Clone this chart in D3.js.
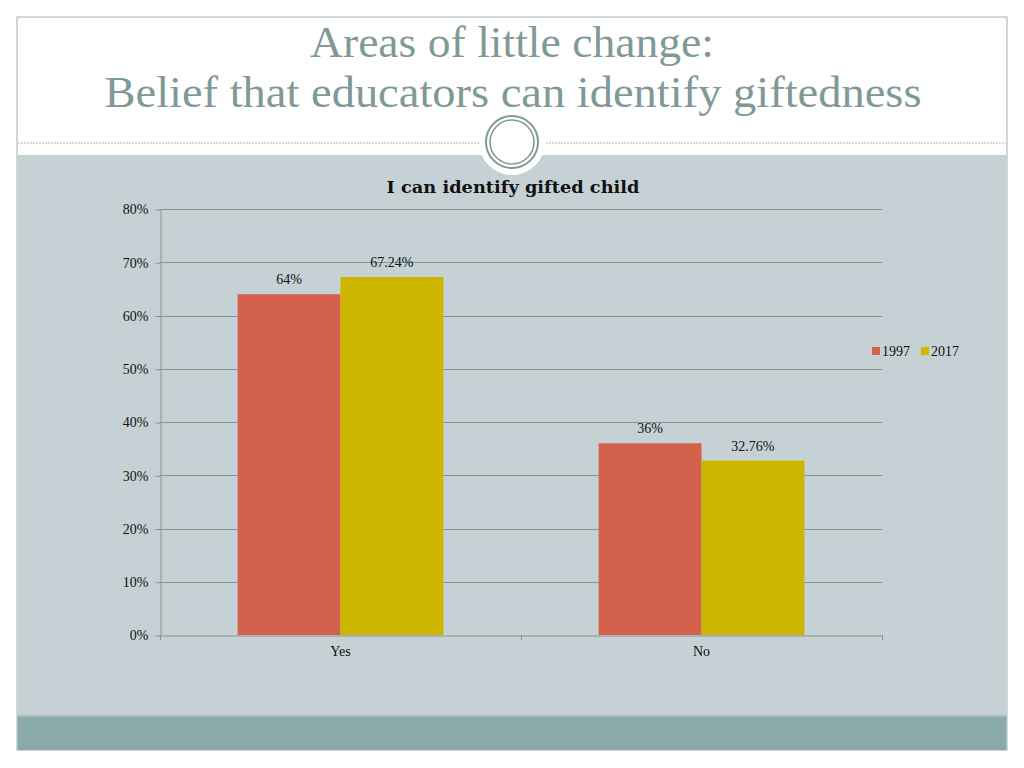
<!DOCTYPE html>
<html><head><meta charset="utf-8">
<script src="https://cdn.jsdelivr.net/npm/d3@7"></script>
<style>body{margin:0;background:#fff;}svg{display:block;}</style>
</head><body>
<svg id="c" width="1024" height="768"></svg>
<script>
const categories = ["Yes", "No"];
const seriesNames = ["1997", "2017"];
const values1997 = [64, 36];
const values2017 = [67.24, 32.76];
const labels1997 = ["64%", "36%"];
const labels2017 = ["67.24%", "32.76%"];
const yTicks = [0, 10, 20, 30, 40, 50, 60, 70, 80];
const colors = ["#d4614b", "#cdb500"];

const svg = d3.select("#c");
const serif = "Liberation Serif, DejaVu Serif, serif";

// slide frame
svg.append("rect").attr("x",17).attr("y",17).attr("width",990).attr("height",733).attr("fill","#fff").attr("stroke","#9fb0b0").attr("stroke-width",1);
svg.append("rect").attr("x",17.5).attr("y",155).attr("width",989).attr("height",561).attr("fill","#c5d1d5");
svg.append("rect").attr("x",17.5).attr("y",716).attr("width",989).attr("height",34).attr("fill","#8aaaa9");
svg.append("line").attr("x1",17.5).attr("x2",1006.5).attr("y1",715.5).attr("y2",715.5).attr("stroke","#b2c3c6").attr("stroke-width",2);
// dashed line
svg.append("line").attr("x1",18).attr("x2",1006).attr("y1",143).attr("y2",143).attr("stroke","#a9b3b3").attr("stroke-width",1).attr("stroke-dasharray","2,1");
// circle ornament
svg.append("circle").attr("cx",512).attr("cy",142).attr("r",33).attr("fill","#fff");
svg.append("circle").attr("cx",512).attr("cy",142).attr("r",26).attr("fill","#fff").attr("stroke","#7f9a96").attr("stroke-width",2);
svg.append("circle").attr("cx",512).attr("cy",142).attr("r",22).attr("fill","#fff").attr("stroke","#7f9a96").attr("stroke-width",1.5);

// Titles
svg.append("text").attr("x",512).attr("y",57).attr("text-anchor","middle").attr("font-family",serif).attr("font-size",45).attr("fill","#7f9a96")
  .attr("textLength",404).attr("lengthAdjust","spacingAndGlyphs").text("Areas of little change:");
svg.append("text").attr("x",513).attr("y",107).attr("text-anchor","middle").attr("font-family",serif).attr("font-size",45).attr("fill","#7f9a96")
  .attr("textLength",817).attr("lengthAdjust","spacingAndGlyphs").text("Belief that educators can identify giftedness");

// chart
const x0 = d3.scaleBand().domain(categories).range([160, 882]).paddingInner(0.43).paddingOuter(0.215);
const x1 = d3.scaleBand().domain(seriesNames).range([0, x0.bandwidth()]);
const y = d3.scaleLinear().domain([0, 80]).range([635, 209]);

svg.append("text").attr("x",513).attr("y",193).attr("text-anchor","middle").attr("font-family","DejaVu Serif, serif").attr("font-weight","bold").attr("font-size",17).attr("fill","#111")
  .attr("textLength",253).attr("lengthAdjust","spacingAndGlyphs").text("I can identify gifted child");

// gridlines
svg.append("g").selectAll("line").data(yTicks.filter(d=>d>0)).join("line")
  .attr("x1",160).attr("x2",882).attr("y1",d=>Math.round(y(d))+0.5).attr("y2",d=>Math.round(y(d))+0.5)
  .attr("stroke","#8a9393").attr("stroke-width",1);

// y axis
const yAxis = d3.axisLeft(y).tickValues(yTicks).tickFormat(d=>d+"%").tickSize(5).tickSizeOuter(0);
const gy = svg.append("g").attr("transform","translate(160.5,0.5)").call(yAxis);
gy.selectAll("path,line").attr("stroke","#8a9393");
gy.selectAll("text").attr("font-family",serif).attr("font-size",14).attr("fill","#111").attr("x",-12);

// bars
const data = categories.map((c,i)=>({cat:c, vals:[values1997[i], values2017[i]], labs:[labels1997[i], labels2017[i]]}));
const groups = svg.append("g").selectAll("g").data(data).join("g").attr("transform",d=>`translate(${x0(d.cat)},0)`);
groups.selectAll("rect").data(d=>d.vals.map((v,j)=>({s:seriesNames[j], v, j}))).join("rect")
  .attr("x",d=>x1(d.s)).attr("width",x1.bandwidth()).attr("y",d=>y(d.v)).attr("height",d=>y(0)-y(d.v)).attr("fill",d=>colors[d.j]);
groups.selectAll("text").data(d=>d.vals.map((v,j)=>({s:seriesNames[j], v, j, lab:d.labs[j]}))).join("text")
  .attr("x",d=>x1(d.s)+x1.bandwidth()/2).attr("y",d=>y(d.v)-10).attr("text-anchor","middle")
  .attr("font-family",serif).attr("font-size",14).attr("fill","#111").text(d=>d.lab);

// x axis
const xAxis = d3.axisBottom(x0).tickSize(0).tickSizeOuter(0);
const gx = svg.append("g").attr("transform","translate(0,635.5)").call(xAxis);
gx.select("path").attr("stroke","#8a9393");
gx.selectAll("text").attr("font-family",serif).attr("font-size",14).attr("fill","#111").attr("dy","1.25em");
// category separator ticks
const seps = [160, (x0("Yes")+x0.bandwidth()+x0("No"))/2, 882];
svg.append("g").selectAll("line").data(seps).join("line")
  .attr("x1",d=>Math.round(d)+0.5).attr("x2",d=>Math.round(d)+0.5).attr("y1",635).attr("y2",640).attr("stroke","#8a9393");

// legend
const lg = svg.append("g").attr("transform","translate(872,351)");
const items = lg.selectAll("g").data(seriesNames).join("g").attr("transform",(d,i)=>`translate(${i*49},0)`);
items.append("rect").attr("x",0).attr("y",-4).attr("width",8).attr("height",8).attr("fill",(d,i)=>colors[i]);
items.append("text").attr("x",10).attr("y",5).attr("font-family",serif).attr("font-size",14).attr("fill","#111").text(d=>d);
</script>
</body></html>
